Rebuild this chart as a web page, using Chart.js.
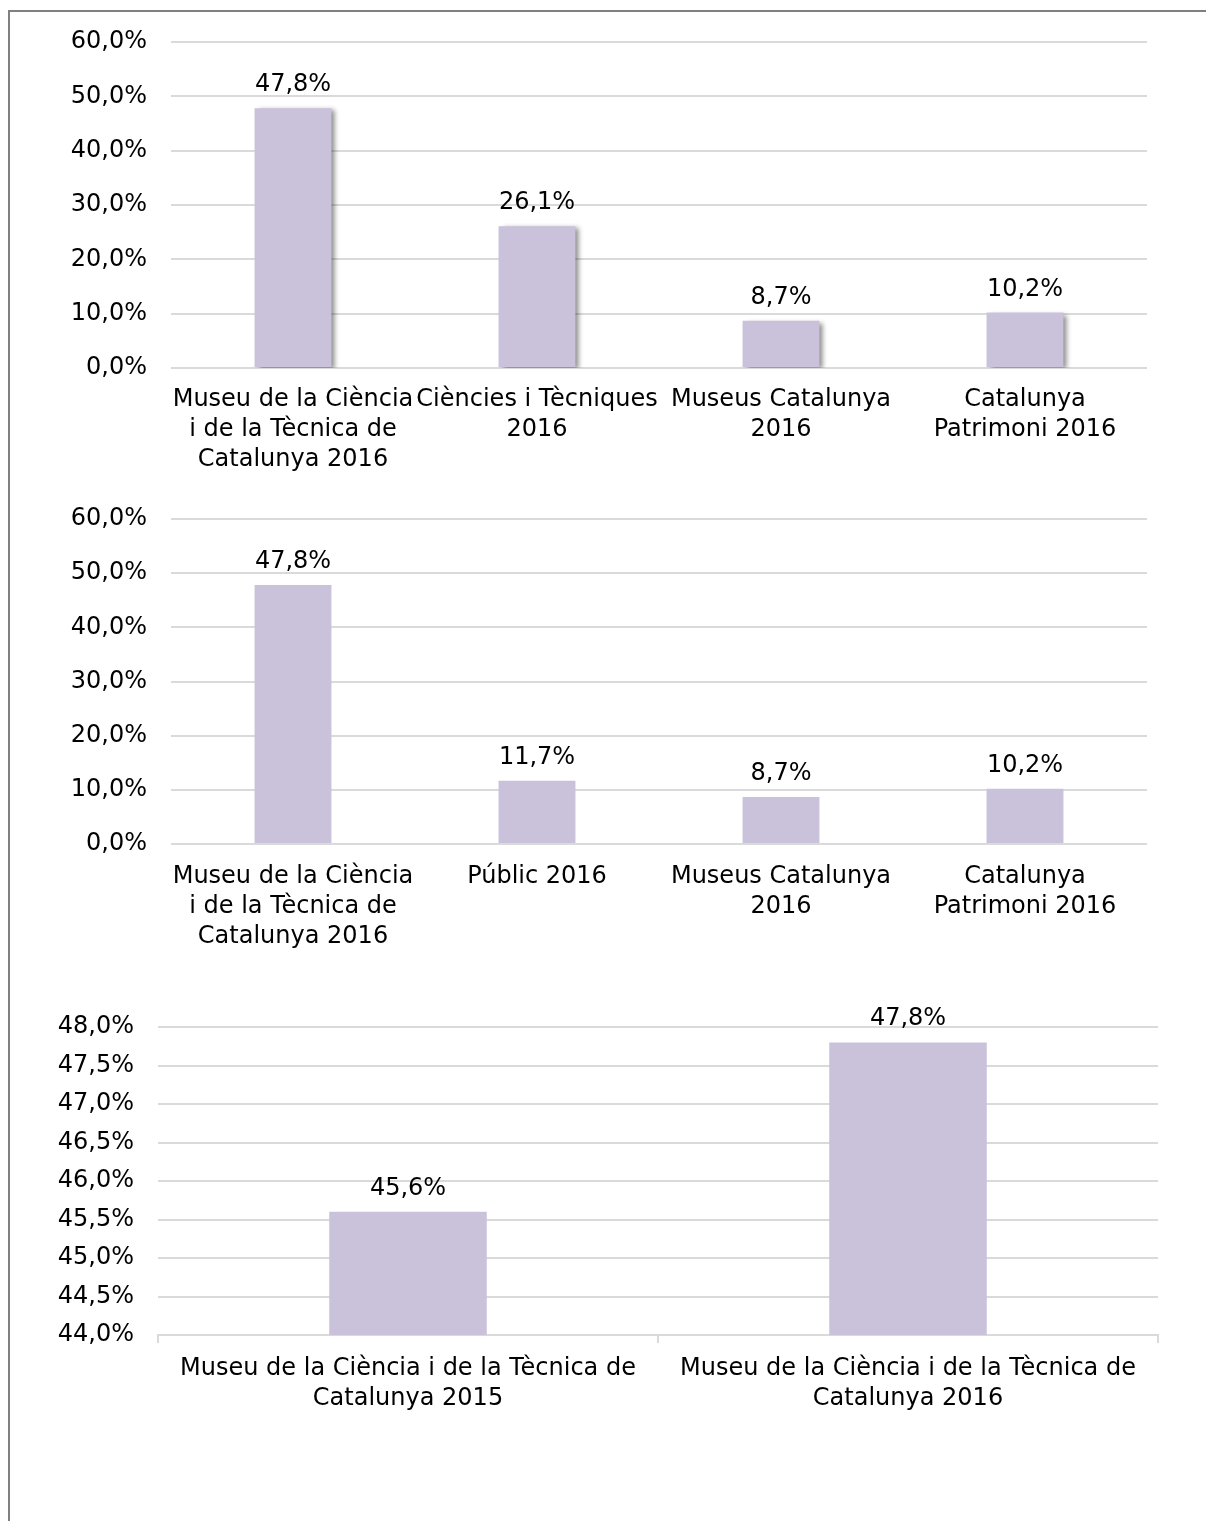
<!DOCTYPE html>
<html>
<head>
<meta charset="utf-8">
<script src="https://cdn.jsdelivr.net/npm/chart.js@4"></script>
<style>
    body { margin: 0; background: #fff; width: 1206px; height: 1521px; overflow: hidden; position: relative; }
    .frame { position: absolute; left: 8px; top: 10px; width: 1400px; height: 1700px;
             border-left: 2px solid #808080; border-top: 2px solid #808080; }
    .box { position: absolute; left: 0; width: 1206px; }
</style>
</head>
<body>
<div class="frame"></div>
<div class="box" style="top:0;height:480px"><canvas id="chart1"></canvas></div>
<div class="box" style="top:477px;height:480px"><canvas id="chart2"></canvas></div>
<div class="box" style="top:960px;height:500px"><canvas id="chart3"></canvas></div>
<script>
const labels1 = [
    ['Museu de la Ciència', 'i de la Tècnica de', 'Catalunya 2016'],
    ['Ciències i Tècniques', '2016'],
    ['Museus Catalunya', '2016'],
    ['Catalunya', 'Patrimoni 2016']
];
const values1 = [47.8, 26.1, 8.7, 10.2];

const labels2 = [
    ['Museu de la Ciència', 'i de la Tècnica de', 'Catalunya 2016'],
    ['Públic 2016'],
    ['Museus Catalunya', '2016'],
    ['Catalunya', 'Patrimoni 2016']
];
const values2 = [47.8, 11.7, 8.7, 10.2];

const labels3 = [
    ['Museu de la Ciència i de la Tècnica de', 'Catalunya 2015'],
    ['Museu de la Ciència i de la Tècnica de', 'Catalunya 2016']
];
const values3 = [45.6, 47.8];

const barColor = '#cac1db';
const gridColor = '#dadada';
const font = {family: '"DejaVu Sans", Verdana, sans-serif', size: 24, lineHeight: 1.25};

Chart.defaults.color = '#000';
Chart.defaults.animation = false;

function pct(value) {
    return value.toFixed(1).replace('.', ',') + '%';
}

// value labels above each bar
const valueLabels = {
    id: 'valueLabels',
    afterDatasetsDraw(chart) {
        const ctx = chart.ctx;
        const meta = chart.getDatasetMeta(0);
        const data = chart.data.datasets[0].data;
        ctx.save();
        ctx.font = '24px "DejaVu Sans", Verdana, sans-serif';
        ctx.fillStyle = '#000';
        ctx.textAlign = 'center';
        ctx.textBaseline = 'alphabetic';
        meta.data.forEach((bar, i) => {
            ctx.fillText(pct(data[i]), bar.x, bar.y - 17);
        });
        ctx.restore();
    }
};

// soft shadow for the first chart's bars
const barShadow = {
    id: 'barShadow',
    beforeDatasetsDraw(chart) {
        const ctx = chart.ctx;
        ctx.save();
        ctx.shadowColor = 'rgba(0,0,0,0.45)';
        ctx.shadowBlur = 5;
        ctx.shadowOffsetX = 4;
        ctx.shadowOffsetY = 2;
    },
    afterDatasetsDraw(chart) {
        chart.ctx.restore();
    }
};

function makeChart(id, labels, values, opts) {
    const plugins = [valueLabels];
    if (opts.shadow) plugins.unshift(barShadow);
    return new Chart(document.getElementById(id), {
        type: 'bar',
        data: {
            labels: labels,
            datasets: [{
                data: values,
                backgroundColor: barColor,
                borderWidth: 0,
                categoryPercentage: 1,
                barPercentage: 0.315
            }]
        },
        options: {
            responsive: true,
            maintainAspectRatio: false,
            layout: {padding: {top: opts.top, right: opts.right, bottom: 0, left: 0}},
            plugins: {legend: {display: false}, tooltip: {enabled: false}},
            scales: {
                x: {
                    grid: opts.xTicks
                        ? {display: true, drawOnChartArea: false, drawTicks: true, tickLength: 8, color: gridColor, lineWidth: 2}
                        : {display: false},
                    border: {display: !!opts.xTicks, color: gridColor, width: 2},
                    ticks: {font: font, padding: opts.xPad, maxRotation: 0, autoSkip: false},
                    afterFit(scale) { scale.height = opts.xHeight; }
                },
                y: {
                    min: opts.min,
                    max: opts.max,
                    grid: {color: gridColor, lineWidth: 2, drawTicks: false},
                    border: {display: false},
                    ticks: {
                        font: font,
                        padding: 24,
                        stepSize: opts.step,
                        callback: value => pct(value)
                    },
                    afterFit(scale) { scale.width = opts.yWidth; }
                }
            }
        },
        plugins: plugins
    });
}

makeChart('chart1', labels1, values1, {
    shadow: true, top: 42, right: 59, xHeight: 112, xPad: 9,
    min: 0, max: 60, step: 10, yWidth: 171
});

makeChart('chart2', labels2, values2, {
    shadow: false, top: 42, right: 59, xHeight: 113, xPad: 10,
    min: 0, max: 60, step: 10, yWidth: 171
});

makeChart('chart3', labels3, values3, {
    shadow: false, top: 67, right: 48, xHeight: 125, xPad: 11, xTicks: true,
    min: 44, max: 48, step: 0.5, yWidth: 158
});
</script>
</body>
</html>
